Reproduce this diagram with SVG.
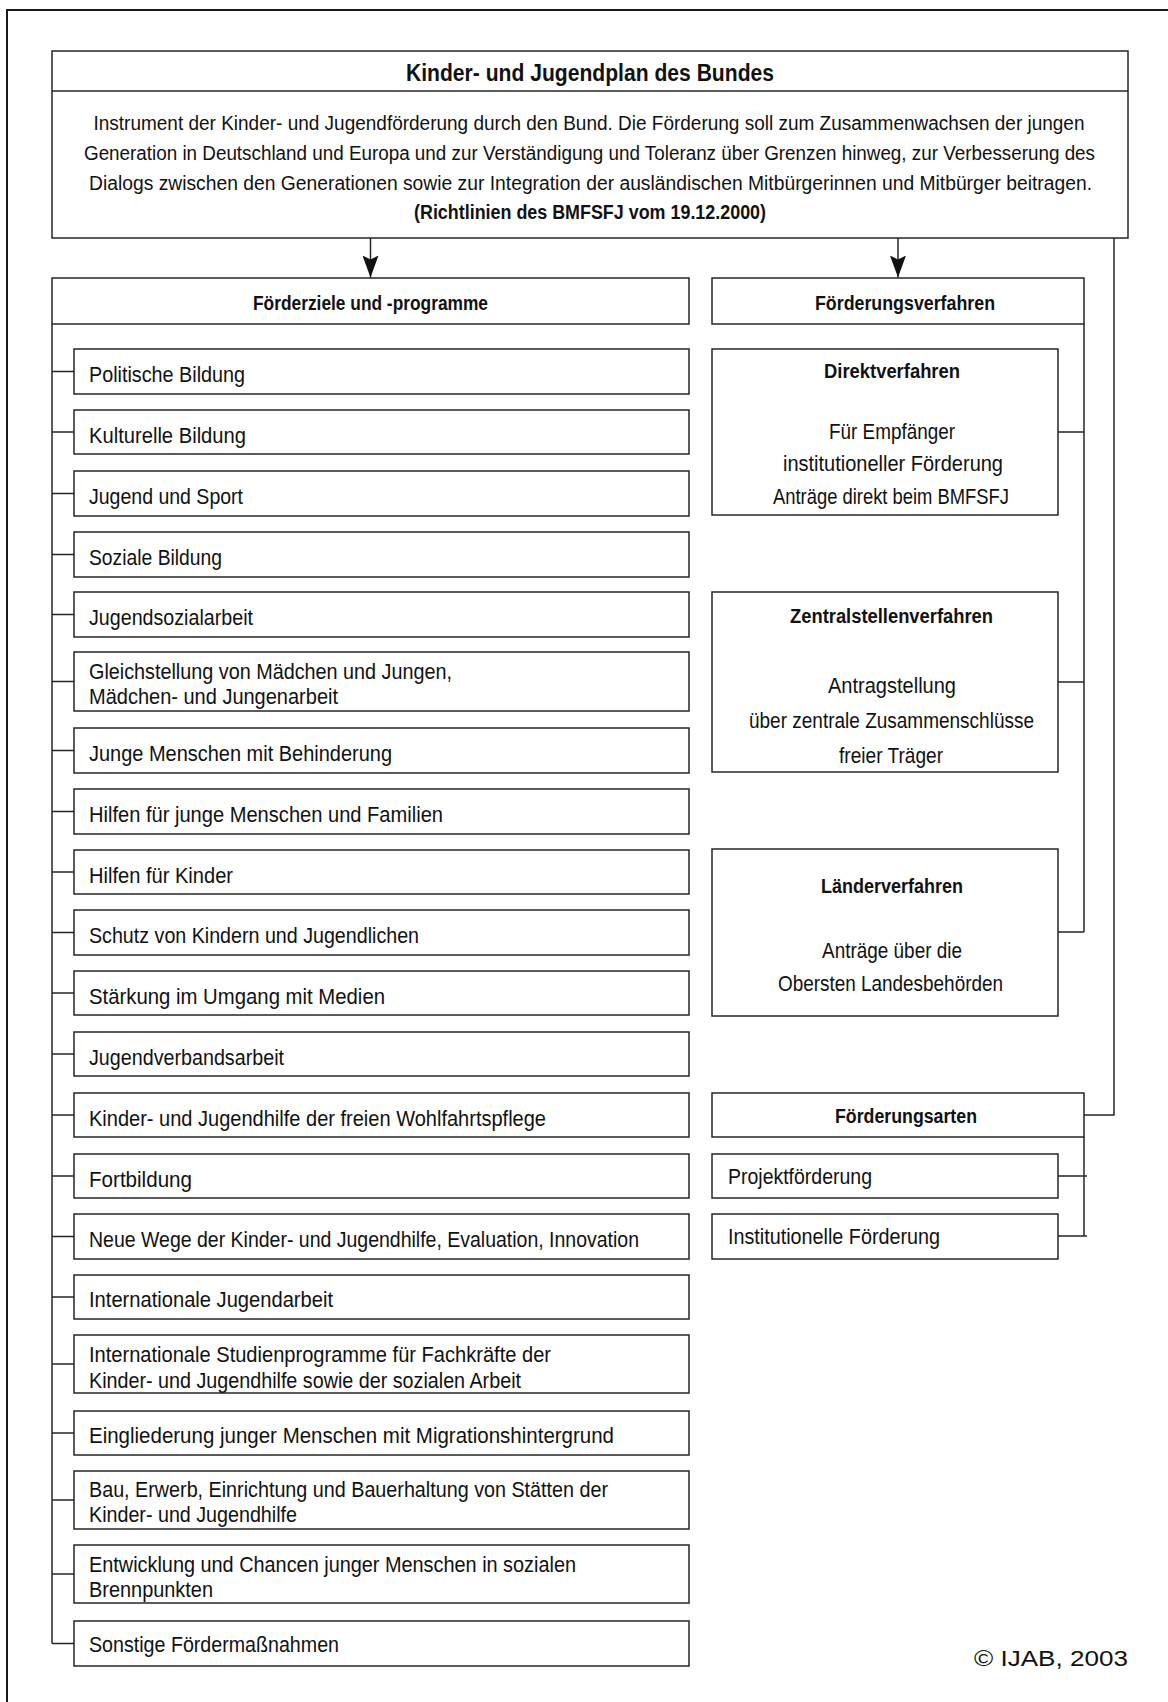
<svg xmlns="http://www.w3.org/2000/svg" width="1168" height="1702" viewBox="0 0 1168 1702">
  <defs>
    <style>
      .box { fill: #ffffff; stroke: #262626; stroke-width: 1.5; }
      .ln { fill: none; stroke: #262626; stroke-width: 1.5; }
      .frame { fill: none; stroke: #1a1a1a; stroke-width: 2; }
      .t { font-family: "Liberation Sans", Arial, sans-serif; font-size: 22px; fill: #111111; }
      .s { font-size: 20px; }
      .b { font-weight: bold; font-size: 20px; }
      .h { font-weight: bold; font-size: 23px; }
      .c { text-anchor: middle; }
    </style>
    <!-- arrowhead drawn along +x, tip at the line end -->
    <marker id="arrow" viewBox="0 0 22 16" refX="22" refY="8" markerWidth="22" markerHeight="16" markerUnits="userSpaceOnUse" orient="auto">
      <path d="M0,0 L4,8 L0,16 L22,8 Z" fill="#111111"/>
    </marker>
  </defs>

  <rect width="1168" height="1702" fill="#ffffff"/>

  <!-- page frame: top and left edge only -->
  <path class="frame" d="M7,1702 V10 H1168"/>

  <!-- header: plan and its purpose -->
  <g id="kjp">
    <rect class="box" x="52" y="51" width="1076" height="187"/>
    <line class="ln" x1="52" y1="91" x2="1128" y2="91"/>
    <text class="t h c" x="590" y="81" textLength="368" lengthAdjust="spacingAndGlyphs">Kinder- und Jugendplan des Bundes</text>
    <text class="t s c" x="589" y="130" textLength="991" lengthAdjust="spacingAndGlyphs">Instrument der Kinder- und Jugendförderung durch den Bund. Die Förderung soll zum Zusammenwachsen der jungen</text>
    <text class="t s c" x="589.5" y="160" textLength="1011" lengthAdjust="spacingAndGlyphs">Generation in Deutschland und Europa und zur Verständigung und Toleranz über Grenzen hinweg, zur Verbesserung des</text>
    <text class="t s c" x="590.5" y="190" textLength="1003" lengthAdjust="spacingAndGlyphs">Dialogs zwischen den Generationen sowie zur Integration der ausländischen Mitbürgerinnen und Mitbürger beitragen.</text>
    <text class="t b c" x="590" y="219" textLength="352" lengthAdjust="spacingAndGlyphs">(Richtlinien des BMFSFJ vom 19.12.2000)</text>
  </g>

  <!-- left column: goals and programmes -->
  <g id="foerderziele">
    <rect class="box" x="52" y="278" width="637" height="46"/>
    <text class="t b c" x="370.5" y="310" textLength="235" lengthAdjust="spacingAndGlyphs">Förderziele und -programme</text>
  </g>

  <g id="z01"><rect class="box" x="74" y="349" width="615" height="45"/><text class="t" x="89" y="381.5" textLength="156" lengthAdjust="spacingAndGlyphs">Politische Bildung</text></g>
  <g id="z02"><rect class="box" x="74" y="410" width="615" height="44"/><text class="t" x="89" y="442.5" textLength="157" lengthAdjust="spacingAndGlyphs">Kulturelle Bildung</text></g>
  <g id="z03"><rect class="box" x="74" y="471" width="615" height="45"/><text class="t" x="89" y="503.5" textLength="154" lengthAdjust="spacingAndGlyphs">Jugend und Sport</text></g>
  <g id="z04"><rect class="box" x="74" y="532" width="615" height="45"/><text class="t" x="89" y="564.5" textLength="133" lengthAdjust="spacingAndGlyphs">Soziale Bildung</text></g>
  <g id="z05"><rect class="box" x="74" y="592" width="615" height="45"/><text class="t" x="89" y="624.5" textLength="164" lengthAdjust="spacingAndGlyphs">Jugendsozialarbeit</text></g>
  <g id="z06"><rect class="box" x="74" y="652" width="615" height="59"/>
    <text class="t" x="89" y="678.5" textLength="363" lengthAdjust="spacingAndGlyphs">Gleichstellung von Mädchen und Jungen,</text>
    <text class="t" x="89" y="703.5" textLength="249" lengthAdjust="spacingAndGlyphs">Mädchen- und Jungenarbeit</text></g>
  <g id="z07"><rect class="box" x="74" y="728" width="615" height="45"/><text class="t" x="89" y="760.5" textLength="303" lengthAdjust="spacingAndGlyphs">Junge Menschen mit Behinderung</text></g>
  <g id="z08"><rect class="box" x="74" y="789" width="615" height="45"/><text class="t" x="89" y="821.5" textLength="354" lengthAdjust="spacingAndGlyphs">Hilfen für junge Menschen und Familien</text></g>
  <g id="z09"><rect class="box" x="74" y="850" width="615" height="44"/><text class="t" x="89" y="882.5" textLength="144" lengthAdjust="spacingAndGlyphs">Hilfen für Kinder</text></g>
  <g id="z10"><rect class="box" x="74" y="910" width="615" height="45"/><text class="t" x="89" y="942.5" textLength="330" lengthAdjust="spacingAndGlyphs">Schutz von Kindern und Jugendlichen</text></g>
  <g id="z11"><rect class="box" x="74" y="971" width="615" height="44"/><text class="t" x="89" y="1003.5" textLength="296" lengthAdjust="spacingAndGlyphs">Stärkung im Umgang mit Medien</text></g>
  <g id="z12"><rect class="box" x="74" y="1032" width="615" height="44"/><text class="t" x="89" y="1064.5" textLength="195" lengthAdjust="spacingAndGlyphs">Jugendverbandsarbeit</text></g>
  <g id="z13"><rect class="box" x="74" y="1093" width="615" height="44"/><text class="t" x="89" y="1125.5" textLength="457" lengthAdjust="spacingAndGlyphs">Kinder- und Jugendhilfe der freien Wohlfahrtspflege</text></g>
  <g id="z14"><rect class="box" x="74" y="1154" width="615" height="44"/><text class="t" x="89" y="1186.5" textLength="103" lengthAdjust="spacingAndGlyphs">Fortbildung</text></g>
  <g id="z15"><rect class="box" x="74" y="1214" width="615" height="45"/><text class="t" x="89" y="1246.5" textLength="550" lengthAdjust="spacingAndGlyphs">Neue Wege der Kinder- und Jugendhilfe, Evaluation, Innovation</text></g>
  <g id="z16"><rect class="box" x="74" y="1275" width="615" height="44"/><text class="t" x="89" y="1307" textLength="244" lengthAdjust="spacingAndGlyphs">Internationale Jugendarbeit</text></g>
  <g id="z17"><rect class="box" x="74" y="1335" width="615" height="58"/>
    <text class="t" x="89" y="1361.5" textLength="462" lengthAdjust="spacingAndGlyphs">Internationale Studienprogramme für Fachkräfte der</text>
    <text class="t" x="89" y="1387.5" textLength="432" lengthAdjust="spacingAndGlyphs">Kinder- und Jugendhilfe sowie der sozialen Arbeit</text></g>
  <g id="z18"><rect class="box" x="74" y="1411" width="615" height="44"/><text class="t" x="89" y="1443" textLength="525" lengthAdjust="spacingAndGlyphs">Eingliederung junger Menschen mit Migrationshintergrund</text></g>
  <g id="z19"><rect class="box" x="74" y="1471" width="615" height="58"/>
    <text class="t" x="89" y="1497" textLength="519" lengthAdjust="spacingAndGlyphs">Bau, Erwerb, Einrichtung und Bauerhaltung von Stätten der</text>
    <text class="t" x="89" y="1522" textLength="208" lengthAdjust="spacingAndGlyphs">Kinder- und Jugendhilfe</text></g>
  <g id="z20"><rect class="box" x="74" y="1545" width="615" height="58"/>
    <text class="t" x="89" y="1571.5" textLength="487" lengthAdjust="spacingAndGlyphs">Entwicklung und Chancen junger Menschen in sozialen</text>
    <text class="t" x="89" y="1596.5" textLength="124" lengthAdjust="spacingAndGlyphs">Brennpunkten</text></g>
  <g id="z21"><rect class="box" x="74" y="1621" width="615" height="45"/><text class="t" x="89" y="1652" textLength="250" lengthAdjust="spacingAndGlyphs">Sonstige Fördermaßnahmen</text></g>

  <!-- right column: procedures -->
  <g id="verfahren">
    <rect class="box" x="712" y="278" width="372" height="46"/>
    <text class="t b c" x="905" y="310" textLength="180" lengthAdjust="spacingAndGlyphs">Förderungsverfahren</text>
  </g>
  <g id="direkt">
    <rect class="box" x="712" y="349" width="346" height="166"/>
    <text class="t b c" x="892" y="378" textLength="136" lengthAdjust="spacingAndGlyphs">Direktverfahren</text>
    <text class="t c" x="892" y="439" textLength="126" lengthAdjust="spacingAndGlyphs">Für Empfänger</text>
    <text class="t c" x="893" y="471" textLength="220" lengthAdjust="spacingAndGlyphs">institutioneller Förderung</text>
    <text class="t c" x="891" y="504" textLength="236" lengthAdjust="spacingAndGlyphs">Anträge direkt beim BMFSFJ</text>
  </g>
  <g id="zentral">
    <rect class="box" x="712" y="592" width="346" height="180"/>
    <text class="t b c" x="891.5" y="622.5" textLength="203" lengthAdjust="spacingAndGlyphs">Zentralstellenverfahren</text>
    <text class="t c" x="892" y="693" textLength="128" lengthAdjust="spacingAndGlyphs">Antragstellung</text>
    <text class="t c" x="891.5" y="728" textLength="285" lengthAdjust="spacingAndGlyphs">über zentrale Zusammenschlüsse</text>
    <text class="t c" x="891" y="763" textLength="104" lengthAdjust="spacingAndGlyphs">freier Träger</text>
  </g>
  <g id="laender">
    <rect class="box" x="712" y="849" width="346" height="167"/>
    <text class="t b c" x="892" y="892.5" textLength="142" lengthAdjust="spacingAndGlyphs">Länderverfahren</text>
    <text class="t c" x="892" y="957.5" textLength="140" lengthAdjust="spacingAndGlyphs">Anträge über die</text>
    <text class="t c" x="890.5" y="991" textLength="225" lengthAdjust="spacingAndGlyphs">Obersten Landesbehörden</text>
  </g>

  <!-- right column: kinds of funding -->
  <g id="arten">
    <rect class="box" x="712" y="1093" width="372" height="44"/>
    <text class="t b c" x="906" y="1122.5" textLength="142" lengthAdjust="spacingAndGlyphs">Förderungsarten</text>
  </g>
  <g id="projekt">
    <rect class="box" x="712" y="1154" width="346" height="44"/>
    <text class="t" x="728" y="1184" textLength="144" lengthAdjust="spacingAndGlyphs">Projektförderung</text>
  </g>
  <g id="institutionell">
    <rect class="box" x="712" y="1214" width="346" height="45"/>
    <text class="t" x="728" y="1244" textLength="212" lengthAdjust="spacingAndGlyphs">Institutionelle Förderung</text>
  </g>

  <!-- connectors -->
  <g id="connectors">
    <line class="ln" x1="370.5" y1="238" x2="370.5" y2="277.5" marker-end="url(#arrow)"/>
    <line class="ln" x1="898" y1="238" x2="898" y2="277.5" marker-end="url(#arrow)"/>
    <!-- left bracket -->
    <path class="ln" d="M52,324 V1643.5"/>
    <path class="ln" d="M52,371.5 H74 M52,432 H74 M52,493.5 H74 M52,554.5 H74 M52,614.5 H74 M52,681.5 H74 M52,750.5 H74 M52,811.5 H74 M52,872 H74 M52,932.5 H74 M52,993 H74 M52,1054 H74 M52,1115 H74 M52,1176 H74 M52,1236.5 H74 M52,1297 H74 M52,1364 H74 M52,1433 H74 M52,1500 H74 M52,1574 H74 M52,1643.5 H74"/>
    <!-- procedures bracket -->
    <path class="ln" d="M1084,324 V932"/>
    <path class="ln" d="M1058,432 H1084 M1058,682 H1084 M1058,932 H1084"/>
    <!-- kinds bracket -->
    <path class="ln" d="M1084,1137 V1236"/>
    <path class="ln" d="M1058,1176 H1087 M1058,1236 H1087"/>
    <!-- header to kinds of funding -->
    <path class="ln" d="M1114,238 V1115 H1084"/>
  </g>

  <text class="t" x="974" y="1666" textLength="154" lengthAdjust="spacingAndGlyphs">© IJAB, 2003</text>
</svg>
